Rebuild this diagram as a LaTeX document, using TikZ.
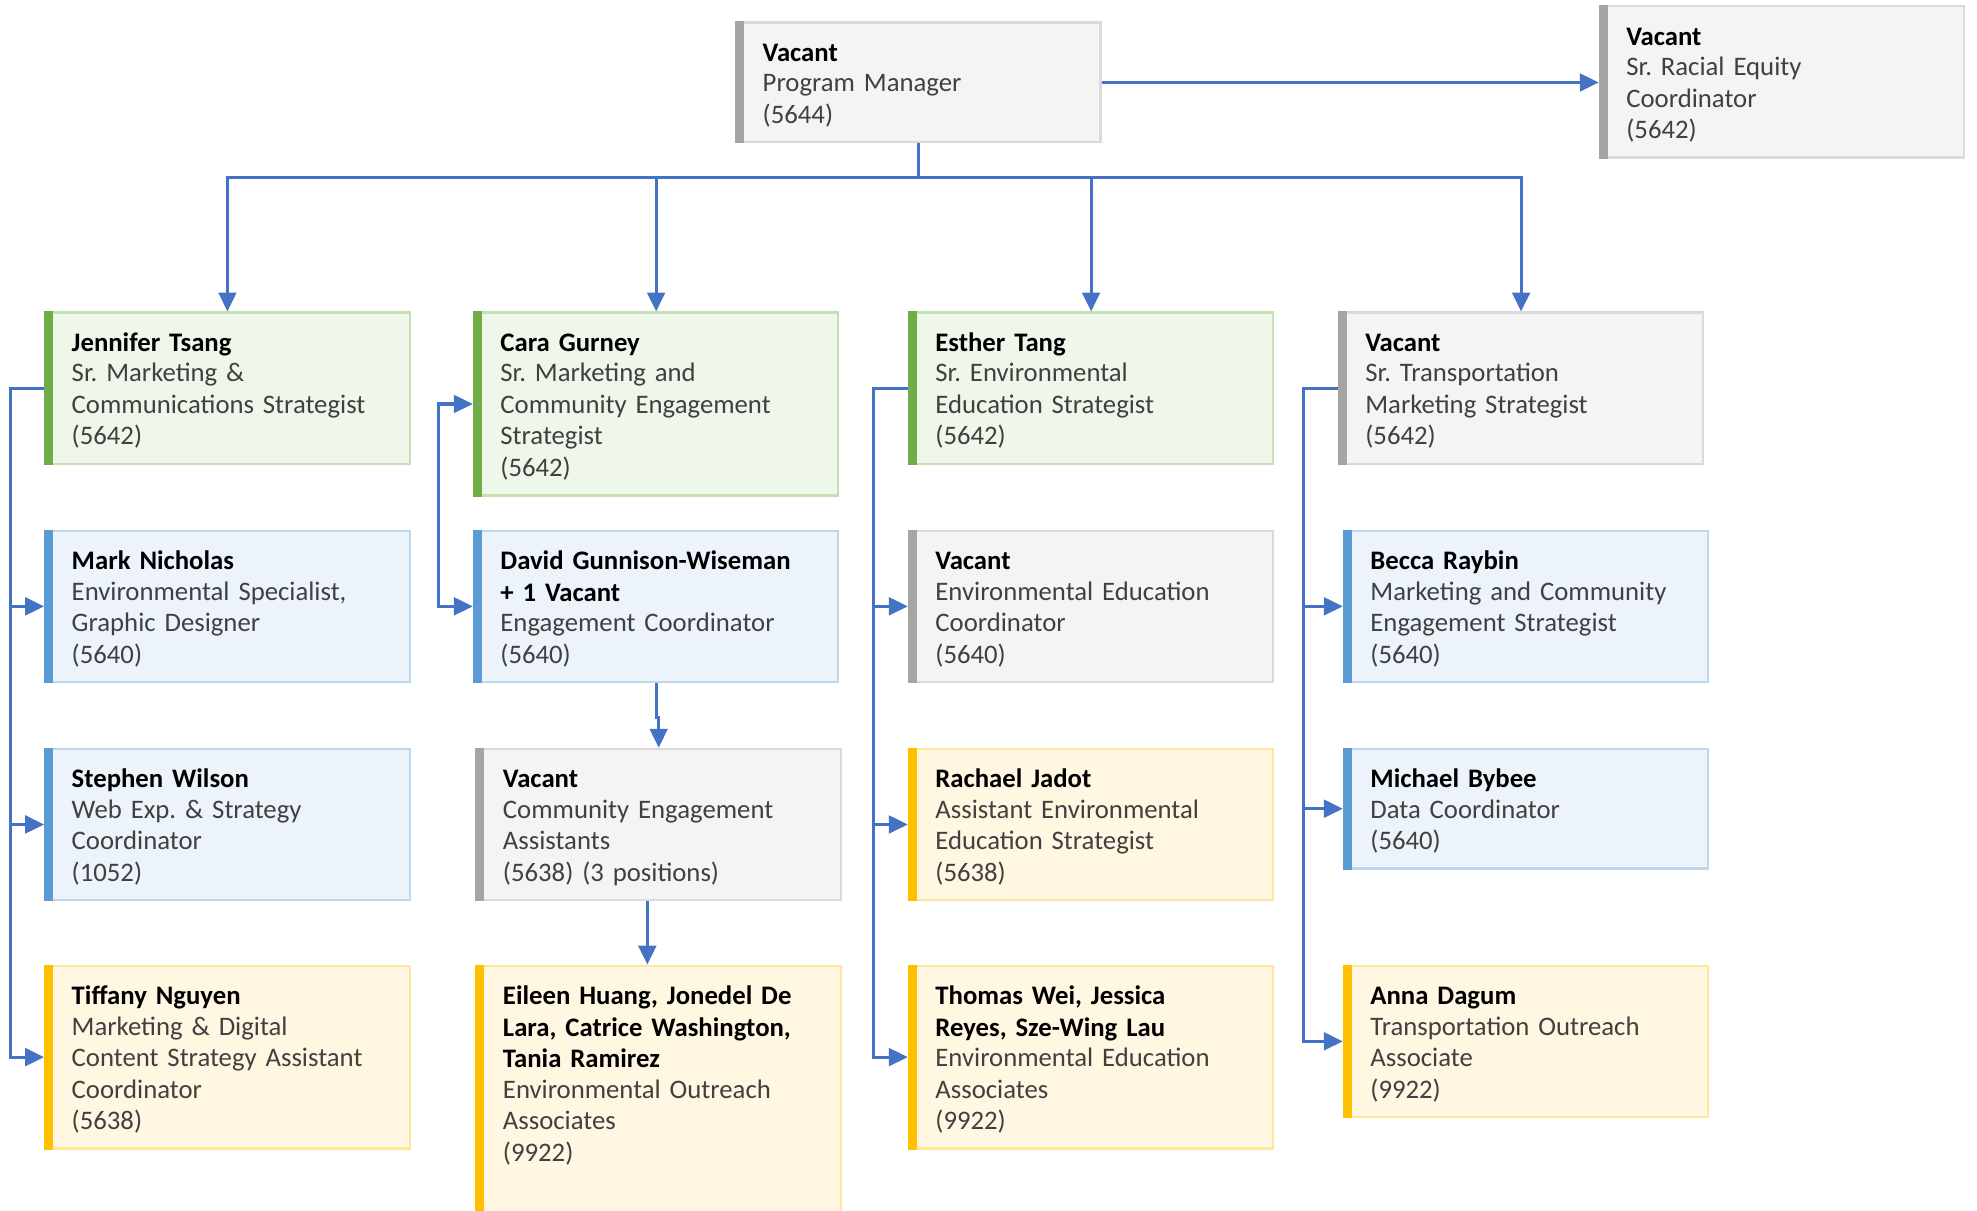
\documentclass[tikz,border=0pt]{standalone}
\usepackage{fontspec}
\setmainfont{Carlito}
\usetikzlibrary{arrows.meta}
\definecolor{lineblue}{HTML}{4472C4}
\definecolor{txtgray}{HTML}{404040}
\definecolor{gfillc}{HTML}{EFF6EA}
\definecolor{glinec}{HTML}{C5E0B4}
\definecolor{gbarc}{HTML}{70AD47}
\definecolor{bfillc}{HTML}{ECF3FA}
\definecolor{blinec}{HTML}{BDD7EE}
\definecolor{bbarc}{HTML}{5B9BD5}
\definecolor{xfillc}{HTML}{F4F4F4}
\definecolor{xlinec}{HTML}{DADADA}
\definecolor{xbarc}{HTML}{A5A5A5}
\definecolor{yfillc}{HTML}{FFF7E2}
\definecolor{ylinec}{HTML}{FFE699}
\definecolor{ybarc}{HTML}{FFC000}
\newcommand\nm[1]{{\color{black}\bfseries #1}\\[-0.5pt]}
\newcommand\orgnode[6]{%
  \node[#2box, text depth=#5] (#1) at (#3,#4) {#6};
  \fill[fill=#2barc] (#1.north west) rectangle ([xshift=3.6pt]#1.south west);
}
\tikzset{
  orgbox/.style={rectangle, anchor=north west, inner xsep=10.5pt, inner ysep=0pt,
    text width=123.5pt, align=left, text height=15.5pt, line width=0.9pt,
    font=\fontsize{10.6pt}{12.5pt}\selectfont\frenchspacing, text=txtgray},
  gbox/.style={orgbox, fill=gfillc, draw=glinec},
  bbox/.style={orgbox, fill=bfillc, draw=blinec},
  xbox/.style={orgbox, fill=xfillc, draw=xlinec},
  ybox/.style={orgbox, fill=yfillc, draw=ylinec},
  conn/.style={draw=lineblue, line width=1.2pt},
  tolink/.style={conn, -{Triangle[length=7.5pt,width=7pt]}},
  bothlink/.style={conn, {Triangle[length=7.5pt,width=7pt]}-{Triangle[length=7.5pt,width=7pt]}}
}
\begin{document}
\begin{tikzpicture}[x=0.5pt,y=-0.5pt]
\useasboundingbox[fill=white] (0,0) rectangle (1568,960);

\orgnode{pm}{x}{583}{17}{32pt}{\nm{Vacant}Program Manager\\(5644)}
\orgnode{req}{x}{1268}{4}{44.5pt}{\nm{Vacant}Sr. Racial Equity\\Coordinator\\(5642)}

\orgnode{jen}{g}{35}{247}{44.5pt}{\nm{Jennifer Tsang}Sr. Marketing \&\\Communications Strategist\\(5642)}
\orgnode{cara}{g}{375}{247}{57pt}{\nm{Cara Gurney}Sr. Marketing and\\Community Engagement\\Strategist\\(5642)}
\orgnode{esther}{g}{720}{247}{44.5pt}{\nm{Esther Tang}Sr. Environmental\\Education Strategist\\(5642)}
\orgnode{vst}{x}{1061}{247}{44.5pt}{\nm{Vacant}Sr. Transportation\\Marketing Strategist\\(5642)}

\orgnode{mark}{b}{35}{420}{44.5pt}{\nm{Mark Nicholas}Environmental Specialist,\\Graphic Designer\\(5640)}
\orgnode{david}{b}{375}{420}{44.5pt}{\nm{David Gunnison-Wiseman\\+ 1 Vacant}Engagement Coordinator\\(5640)}
\orgnode{veec}{x}{720}{420}{44.5pt}{\nm{Vacant}Environmental Education\\Coordinator\\(5640)}
\orgnode{becca}{b}{1065}{420}{44.5pt}{\nm{Becca Raybin}Marketing and Community\\Engagement Strategist\\(5640)}

\orgnode{stephen}{b}{35}{593}{44.5pt}{\nm{Stephen Wilson}Web Exp. \& Strategy\\Coordinator\\(1052)}
\orgnode{cea}{x}{377}{593}{44.5pt}{\nm{Vacant}Community Engagement\\Assistants\\(5638) (3 positions)}
\orgnode{rachael}{y}{720}{593}{44.5pt}{\nm{Rachael Jadot}Assistant Environmental\\Education Strategist\\(5638)}
\orgnode{michael}{b}{1065}{593}{32pt}{\nm{Michael Bybee}Data Coordinator\\(5640)}

\orgnode{tiffany}{y}{35}{765}{57pt}{\nm{Tiffany Nguyen}Marketing \& Digital\\Content Strategy Assistant\\Coordinator\\(5638)}
\orgnode{eileen}{y}{377}{765}{99.5pt}{\nm{Eileen Huang, Jonedel De\\Lara, Catrice Washington,\\Tania Ramirez}Environmental Outreach\\Associates\\(9922)}
\orgnode{thomas}{y}{720}{765}{57pt}{\nm{Thomas Wei, Jessica\\Reyes, Sze-Wing Lau}Environmental Education\\Associates\\(9922)}
\orgnode{anna}{y}{1065}{765}{44.5pt}{\nm{Anna Dagum}Transportation Outreach\\Associate\\(9922)}

% top level
\draw[tolink] (pm.east) -- (pm.east -| req.west);
\draw[tolink] (pm.south) -- ++(0,27) -| (jen.north);
\draw[tolink] (pm.south) -- ++(0,27) -| (cara.north);
\draw[tolink] (pm.south) -- ++(0,27) -| (esther.north);
\draw[tolink] (pm.south) -- ++(0,27) -| (vst.north);

% Jennifer branch
\draw[tolink] (jen.west) -- ++(-27,0) |- (mark.west);
\draw[tolink] (jen.west) -- ++(-27,0) |- (stephen.west);
\draw[tolink] (jen.west) -- ++(-27,0) |- (tiffany.west);

% Cara branch
\draw[bothlink] (cara.west) -- ++(-27,0) |- (david.west);
\draw[tolink] (david.south) -- ++(0,27) -| (cea.north);
\draw[tolink] ([xshift=-4.5pt]cea.south) -- ([xshift=-4.5pt]eileen.north);

% Esther branch
\draw[tolink] (esther.west) -- ++(-27,0) |- (veec.west);
\draw[tolink] (esther.west) -- ++(-27,0) |- (rachael.west);
\draw[tolink] (esther.west) -- ++(-27,0) |- (thomas.west);

% Transportation branch
\draw[tolink] (vst.west) -- ++(-27,0) |- (becca.west);
\draw[tolink] (vst.west) -- ++(-27,0) |- (michael.west);
\draw[tolink] (vst.west) -- ++(-27,0) |- (anna.west);
\end{tikzpicture}
\end{document}
